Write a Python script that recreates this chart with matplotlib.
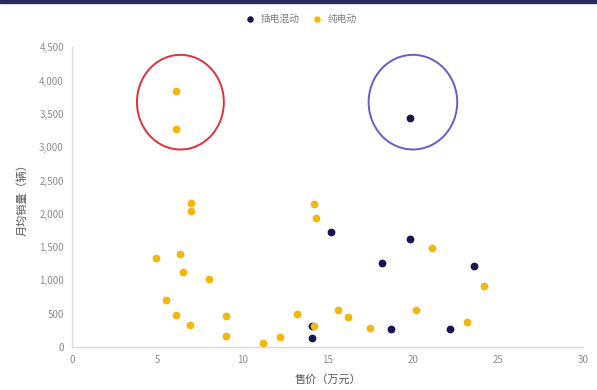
import matplotlib.pyplot as plt
from matplotlib.patches import Ellipse, Rectangle
from matplotlib.ticker import FuncFormatter

plt.rcParams['font.family'] = ['Noto Sans CJK SC', 'DejaVu Sans']

# 插电混动
phev_price = [14.1, 14.1, 15.2, 18.2, 18.7, 19.8, 19.8, 22.2, 23.6]
phev_sales = [135, 310, 1725, 1265, 275, 1620, 3445, 275, 1215]

# 纯电动
bev_price = [6.1, 6.1, 7.0, 7.0, 6.3, 6.5, 4.9, 8.05, 5.5, 6.1, 6.9, 9.05, 9.05,
             11.2, 12.2, 13.2, 14.2, 14.2, 14.3, 15.6, 16.2, 17.5, 20.2, 21.1,
             23.2, 24.2]
bev_sales = [3850, 3265, 2155, 2035, 1395, 1130, 1330, 1020, 705, 480, 330, 470, 160,
             65, 150, 495, 320, 2145, 1935, 555, 450, 290, 560, 1490,
             380, 920]

navy = "#15154f"
gold = "#f3b70c"
gray = "#8c8c8c"

fig = plt.figure(figsize=(5.97, 3.9), dpi=100)
ax = fig.add_axes([0.121, 0.110, 0.856, 0.769])

ax.scatter(phev_price, phev_sales, s=21, color=navy, label="插电混动", zorder=3)
ax.scatter(bev_price, bev_sales, s=21, color=gold, label="纯电动", zorder=4)

# highlight circles
ax.add_patch(Ellipse((6.35, 3675), 5.1, 1420, fill=False, edgecolor="#e0303a", lw=1.4))
ax.add_patch(Ellipse((20.0, 3675), 5.2, 1420, fill=False, edgecolor="#6a5acd", lw=1.4))

ax.set_xlim(0, 30)
ax.set_ylim(0, 4500)
ax.set_xticks(range(0, 31, 5))
ax.set_yticks(range(0, 4501, 500))
ax.yaxis.set_major_formatter(FuncFormatter(lambda v, p: f"{int(v):,}"))
ax.tick_params(length=0, labelsize=7, colors=gray, pad=6)

for s in ["top", "right"]:
    ax.spines[s].set_visible(False)
for s in ["left", "bottom"]:
    ax.spines[s].set_color("#d9d9d9")
    ax.spines[s].set_linewidth(1.0)

ax.set_xlabel("售价（万元）", fontsize=8, color="#595959", labelpad=6)
ax.set_ylabel("月均销量（辆）", fontsize=8, color="#595959", labelpad=8)

fig.legend(loc="center", bbox_to_anchor=(0.5, 0.952), ncol=2, frameon=False,
           fontsize=7, labelcolor="#7f7f7f", handletextpad=0.1, columnspacing=0.8,
           markerscale=0.8)

fig.patches.append(Rectangle((0, 0.993), 1, 0.007, transform=fig.transFigure,
                             color="#2b2b5c", zorder=10))

fig.savefig("out.png", dpi=100)
